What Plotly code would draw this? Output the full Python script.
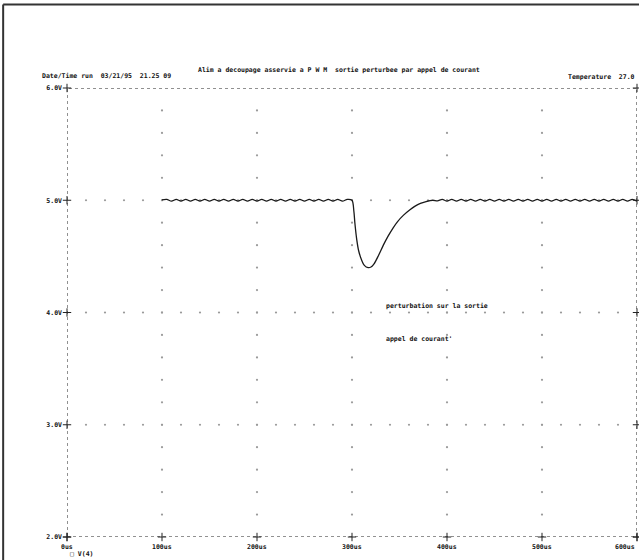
import plotly.graph_objects as go

# ---------------- data ----------------
time_us = [100, 105, 110, 115, 120, 125, 130, 135, 140, 145, 150, 155, 160, 165, 170,
           175, 180, 185, 190, 195, 200, 205, 210, 215, 220, 225, 230, 235, 240, 245,
           250, 255, 260, 265, 270, 275, 280, 285, 290, 295, 300,
           302, 303, 305, 307, 310, 313, 317, 320, 323, 328, 333, 338, 343, 348,
           354, 361, 366, 372, 378,
           385, 390, 395, 400, 405, 410, 415, 420, 425, 430, 435, 440, 445, 450,
           455, 460, 465, 470, 475, 480, 485, 490, 495, 500, 505, 510, 515, 520,
           525, 530, 535, 540, 545, 550, 555, 560, 565, 570, 575, 580, 585, 590,
           595, 600]
v4_volts = [5.004, 5.008, 4.992, 5.008, 4.992, 5.008, 4.992, 5.008, 4.992, 5.008, 4.992,
            5.008, 4.992, 5.008, 4.992, 5.008, 4.992, 5.008, 4.992, 5.008, 4.992, 5.008,
            4.992, 5.008, 4.992, 5.008, 4.992, 5.008, 4.992, 5.008, 4.992, 5.008, 4.992,
            5.008, 4.992, 5.008, 4.992, 5.008, 4.992, 5.008, 5.000,
            4.90, 4.80, 4.65, 4.55, 4.47, 4.42, 4.40, 4.405, 4.43, 4.51, 4.60, 4.68,
            4.75, 4.81, 4.865, 4.915, 4.945, 4.972, 4.988,
            5.000, 4.995, 5.008, 4.992, 5.008, 4.992, 5.008, 4.992, 5.008, 4.992,
            5.008, 4.992, 5.008, 4.992, 5.008, 4.992, 5.008, 4.992, 5.008, 4.992,
            5.008, 4.992, 5.008, 4.992, 5.008, 4.992, 5.008, 4.992, 5.008, 4.992,
            5.008, 4.992, 5.008, 4.992, 5.008, 4.992, 5.008, 4.992, 5.008, 4.992,
            5.008, 4.992, 5.008, 4.992]

x_ticks = [0, 100, 200, 300, 400, 500, 600]
x_tick_labels = ["0us", "100us", "200us", "300us", "400us", "500us", "600us"]
y_ticks = [2, 3, 4, 5, 6]
y_tick_labels = ["2.0V", "3.0V", "4.0V", "5.0V", "6.0V"]

title_text = "Alim a decoupage asservie a P W M  sortie perturbee par appel de courant"
date_text = "Date/Time run  03/21/95  21.25 09"
temp_text = "Temperature  27.0"
note1 = "perturbation sur la sortie"
note2 = "appel de courant'"
legend_text = "\u25a1 V(4)"

FONT = "DejaVu Sans Mono"
FS = 6.5
TXT = "#111"
TFONT = dict(family=FONT, size=FS, color=TXT, weight="bold")

fig = go.Figure()

# dotted grid: vertical columns at each inner x tick, horizontal rows at each inner y tick
gx, gy = [], []
for xv in x_ticks[1:-1]:
    v = y_ticks[0]
    while v < y_ticks[-1] - 1e-9:
        v = round(v + 0.2, 3)
        if v < y_ticks[-1] - 1e-9:
            gx.append(xv)
            gy.append(v)
for yv in y_ticks[1:-1]:
    for k in range(1, 30):
        gx.append(k * 20)
        gy.append(yv)
fig.add_trace(go.Scatter(x=gx, y=gy, mode="markers",
                         marker=dict(size=2.2, color="#9a9a9a"),
                         hoverinfo="skip", showlegend=False))

# tick crosses on the frame
cx = [0] * len(y_ticks) + x_ticks + [600] * len(y_ticks)
cy = y_ticks + [2] * len(x_ticks) + y_ticks
fig.add_trace(go.Scatter(x=cx, y=cy, mode="markers",
                         marker=dict(symbol="cross-thin", size=6,
                                     line=dict(width=1, color="#222")),
                         cliponaxis=False, hoverinfo="skip", showlegend=False))

# V(4) trace
fig.add_trace(go.Scatter(x=time_us, y=v4_volts, mode="lines",
                         line=dict(color="#1a1a1a", width=1.3, shape="spline", smoothing=0.8),
                         showlegend=False))

# dotted plot frame
fig.add_shape(type="rect", xref="x", yref="y", x0=0, x1=600, y0=2, y1=6,
              line=dict(color="#222", width=1, dash="dot"), layer="below")

# scanned page border (left and top edge)
fig.add_shape(type="line", xref="paper", yref="paper", x0=-0.112, x1=-0.112,
              y0=-0.06, y1=1.186, line=dict(color="#333", width=2))
fig.add_shape(type="line", xref="paper", yref="paper", x0=-0.112, x1=1.01,
              y0=1.186, y1=1.186, line=dict(color="#333", width=2))

# x tick labels
for xv, lab in zip(x_ticks, x_tick_labels):
    fig.add_annotation(x=xv, y=0, xref="x", yref="paper", yshift=-10, yanchor="middle",
                       text=lab, showarrow=False,
                       xanchor="right" if xv == x_ticks[-1] else "center",
                       font=TFONT)

# header texts
fig.add_annotation(x=0.477, y=1, xref="paper", yref="paper", yshift=18, yanchor="middle",
                   text=title_text, showarrow=False, xanchor="center", font=TFONT)
fig.add_annotation(x=-0.047, y=1, xref="paper", yref="paper", yshift=12, yanchor="middle",
                   text=date_text, showarrow=False, xanchor="left", font=TFONT)
fig.add_annotation(x=1.0, y=1, xref="paper", yref="paper", yshift=11, yanchor="middle",
                   text=temp_text, showarrow=False, xanchor="right", font=TFONT)

# in-plot notes
fig.add_annotation(x=334, y=4.06, xref="x", yref="y", text=note1, showarrow=False,
                   xanchor="left", font=TFONT)
fig.add_annotation(x=334, y=3.76, xref="x", yref="y", text=note2, showarrow=False,
                   xanchor="left", font=TFONT)

# legend label
fig.add_annotation(x=0, y=0, xref="x", yref="paper", yshift=-17, yanchor="middle", xshift=1,
                   text=legend_text, showarrow=False, xanchor="left", font=TFONT)

fig.update_layout(
    width=639, height=560,
    margin=dict(l=67, r=2, t=88, b=23, autoexpand=False),
    paper_bgcolor="white", plot_bgcolor="white",
    xaxis=dict(range=[0, 600], showgrid=False, zeroline=False, showline=False,
               showticklabels=False, ticks=""),
    yaxis=dict(range=[2, 6], showgrid=False, zeroline=False, showline=False,
               tickvals=y_ticks, ticktext=y_tick_labels, ticks="",
               ticklabelstandoff=4, tickfont=TFONT),
    showlegend=False,
)

fig.write_html("out.html", config={"displayModeBar": False},
               post_script="document.body.style.margin='0';document.body.style.overflow='hidden';")
